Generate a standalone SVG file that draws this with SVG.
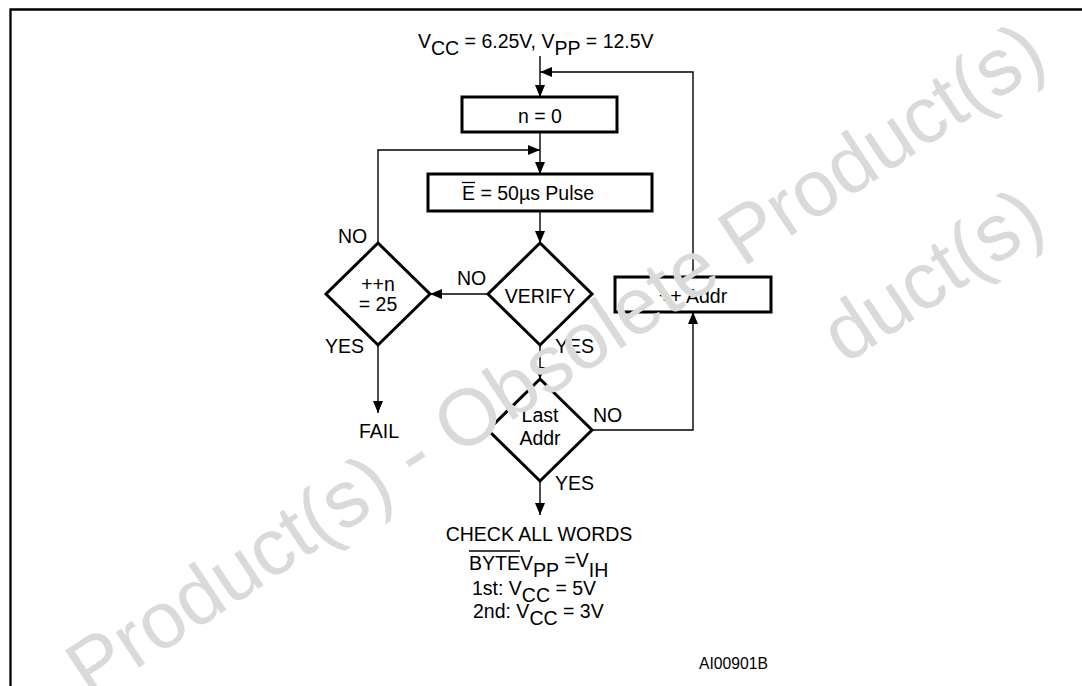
<svg xmlns="http://www.w3.org/2000/svg" width="1082" height="686" viewBox="0 0 1082 686">
<style>
.shape{fill:#fff;stroke:#000;stroke-width:3}
.c{fill:none;stroke:#000;stroke-width:1.4}
.t{font-family:"Liberation Sans",Arial,Helvetica,sans-serif;font-size:19.5px;fill:#000}
.s{font-size:15.7px}
.wm{font-family:"Liberation Sans",Arial,Helvetica,sans-serif;font-size:80px;fill:#dadada}
</style>
<defs>
<marker id="ah" markerUnits="userSpaceOnUse" markerWidth="12" markerHeight="10" refX="12" refY="5" orient="auto">
<path d="M0,0 L12,5 L0,10 z" fill="#000"/>
</marker>
</defs>
<rect width="1082" height="686" fill="#fff"/>
<g id="frame" fill="none" stroke="#000" stroke-width="2.3">
<path d="M10.5,686 V9.5 H1083"/>
</g>
<g id="connectors" class="c">
<path d="M540,56 V97" marker-end="url(#ah)"/>
<path d="M693,277 V72 H540" marker-end="url(#ah)"/>
<path d="M540,132 V174" marker-end="url(#ah)"/>
<path d="M378,243 V150 H540" marker-end="url(#ah)"/>
<path d="M540,211 V243" marker-end="url(#ah)"/>
<path d="M488,294 H430" marker-end="url(#ah)"/>
<path d="M378,345 V413" marker-end="url(#ah)"/>
<path d="M540,345 V379" marker-end="url(#ah)"/>
<path d="M592,430 H693 V312" marker-end="url(#ah)"/>
<path d="M540,481 V515" marker-end="url(#ah)"/>
</g>
<g id="start">
<text class="t" x="418" y="48">V<tspan y="54.5">CC</tspan><tspan y="48"> = 6.25V, V</tspan><tspan y="54.5">PP</tspan><tspan y="48"> = 12.5V</tspan></text>
</g>
<g id="n0">
<rect class="shape" x="462" y="97" width="155" height="35"/>
<text class="t" x="540" y="123" text-anchor="middle">n = 0</text>
</g>
<g id="pulse">
<rect class="shape" x="428" y="174" width="224" height="37"/>
<text class="t" x="462" y="200">E = 50µs Pulse</text>
<line x1="462" y1="182.5" x2="475" y2="182.5" stroke="#000" stroke-width="1.3"/>
</g>
<g id="verify">
<path class="shape" d="M540,243 L592,294 L540,345 L488,294 z"/>
<text class="t" x="540" y="303" text-anchor="middle">VERIFY</text>
</g>
<g id="count">
<path class="shape" d="M378,243 L430,294 L378,345 L326,294 z"/>
<text class="t" x="378" y="291" text-anchor="middle">++n</text>
<text class="t" x="378" y="311" text-anchor="middle">= 25</text>
</g>
<g id="incaddr">
<rect class="shape" x="615" y="277" width="156" height="35"/>
<text class="t" x="693" y="303" text-anchor="middle">++ Addr</text>
</g>
<g id="lastaddr">
<path class="shape" d="M540,379 L592,430 L540,481 L488,430 z"/>
<text class="t" x="540" y="422" text-anchor="middle">Last</text>
<text class="t" x="540" y="445" text-anchor="middle">Addr</text>
</g>
<g id="fail">
<text class="t" x="359" y="438">FAIL</text>
</g>
<g id="check">
<text class="t" x="539" y="541" text-anchor="middle">CHECK ALL WORDS</text>
<text class="t" x="469" y="570">BYTEV<tspan y="577">PP</tspan><tspan y="567"> =V</tspan><tspan y="577">IH</tspan></text>
<line x1="469" y1="551" x2="520" y2="551" stroke="#000" stroke-width="1.3"/>
<text class="t" x="472" y="595">1st: V<tspan y="602">CC</tspan><tspan y="595"> = 5V</tspan></text>
<text class="t" x="473" y="618">2nd: V<tspan y="625">CC</tspan><tspan y="618"> = 3V</tspan></text>
</g>
<g id="labels">
<text class="t" x="338" y="243">NO</text>
<text class="t" x="457" y="285">NO</text>
<text class="t" x="325" y="353">YES</text>
<text class="t" x="555" y="353">YES</text>
<text class="t" x="593" y="422">NO</text>
<text class="t" x="555" y="490">YES</text>
<text class="t s" x="699" y="669">AI00901B</text>
</g>
<g id="watermark">
<text class="wm" transform="translate(90,700) rotate(-33.5)">Product(s) - Obsolete Product(s)</text>
<text class="wm" transform="translate(845,365) rotate(-33.5)">duct(s)</text>
</g>
</svg>
